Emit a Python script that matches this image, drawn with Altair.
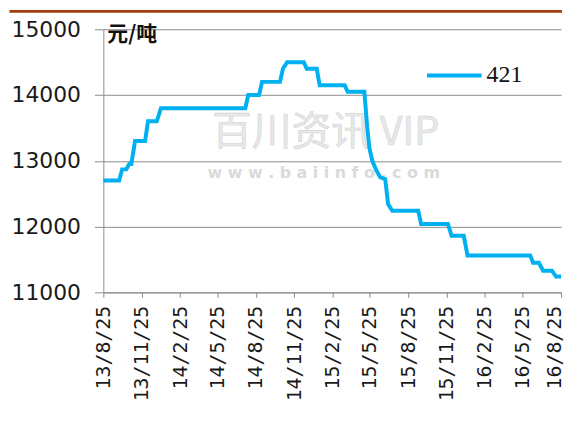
import altair as alt
import pandas as pd

# ---- data ----
dates = [
    "2013-08-25", "2013-10-02", "2013-10-09", "2013-10-19", "2013-10-26", "2013-10-31",
    "2013-11-09", "2013-12-03", "2013-12-10", "2013-12-31", "2014-01-10", "2014-07-31",
    "2014-08-07", "2014-09-02", "2014-09-09", "2014-10-22", "2014-10-29", "2014-11-08",
    "2014-12-18", "2014-12-25", "2015-01-18", "2015-01-25", "2015-03-26", "2015-04-02",
    "2015-05-12", "2015-05-19", "2015-05-24", "2015-05-31", "2015-06-10", "2015-06-19",
    "2015-07-01", "2015-07-08", "2015-07-18", "2015-09-18", "2015-09-25", "2015-11-28",
    "2015-12-07", "2016-01-05", "2016-01-14", "2016-06-12", "2016-06-19", "2016-07-03",
    "2016-07-13", "2016-08-03", "2016-08-13", "2016-08-25",
]
values = [
    12700, 12700, 12870, 12870, 12950, 12950,
    13300, 13300, 13600, 13600, 13800, 13800,
    14000, 14000, 14200, 14200, 14400, 14500,
    14500, 14400, 14400, 14150, 14150, 14050,
    14050, 13500, 13200, 13000, 12850, 12750,
    12720, 12340, 12240, 12240, 12040, 12040,
    11860, 11860, 11560, 11560, 11450, 11450,
    11330, 11330, 11240, 11240,
]
series_name = "421"
unit_label = "元/吨"
watermark_main = "百川资讯 VIP"
watermark_sub = "w w w . b a i i n f o . c o m"
tick_dates = [(2013, 8), (2013, 11), (2014, 2), (2014, 5), (2014, 8), (2014, 11),
              (2015, 2), (2015, 5), (2015, 8), (2015, 11), (2016, 2), (2016, 5), (2016, 8)]
y_ticks = [11000, 12000, 13000, 14000, 15000]

df = pd.DataFrame({"date": pd.to_datetime(dates), "value": values, "series": series_name})

W, H = 461, 265
LINE_COLOR = "#00b0f0"
GRID = "#8c8c8c"

line = alt.Chart(df).mark_line(strokeWidth=4, color=LINE_COLOR).encode(
    x=alt.X(
        "date:T",
        scale=alt.Scale(domain=[alt.DateTime(year=2013, month=8, date=25),
                                alt.DateTime(year=2016, month=8, date=25)]),
        axis=alt.Axis(
            values=[alt.DateTime(year=y, month=m, date=25) for y, m in tick_dates],
            format="%y/%-m/%d", labelAngle=270, title=None, grid=False,
            labelFont="DejaVu Sans Mono", labelFontSize=20, labelColor="#1a1a1a",
            tickSize=5, labelPadding=8, domainColor=GRID, tickColor=GRID,
            labelOverlap=False, labelFlush=False,
            labelOffset={"condition": {"test": "datum.index > 0.99", "value": -7}, "value": 0},
        ),
    ),
    y=alt.Y(
        "value:Q",
        scale=alt.Scale(domain=[11000, 15000], nice=False, zero=False),
        axis=alt.Axis(
            values=y_ticks, format="d", title=None, grid=True, gridColor=GRID,
            labelFont="DejaVu Sans", labelFontSize=22, labelColor="#1a1a1a",
            tickSize=9, labelPadding=14, domainColor=GRID, tickColor=GRID,
        ),
    ),
    color=alt.Color(
        "series:N",
        scale=alt.Scale(range=[LINE_COLOR]),
        legend=alt.Legend(
            orient="none", legendX=324, legendY=17, title=None,
            symbolType="stroke", symbolSize=3025, symbolStrokeWidth=4,
            labelFont="Liberation Serif", labelFontSize=24, labelColor="#111",
            labelOffset=3, padding=0,
        ),
    ),
)

unit = alt.Chart(pd.DataFrame({"t": [unit_label]})).mark_text(
    align="left", baseline="middle", font="Noto Sans CJK SC", fontSize=21,
    fontWeight="bold", color="#111"
).encode(text="t:N", x=alt.value(4), y=alt.value(6))

wm1 = alt.Chart(pd.DataFrame({"t": [watermark_main]})).mark_text(
    align="center", baseline="middle", font="Noto Sans CJK SC", fontSize=40,
    color="#e8e8e8", stroke="#d4d4d4", strokeWidth=0.6
).encode(text="t:N", x=alt.value(224), y=alt.value(105))

wm2 = alt.Chart(pd.DataFrame({"t": [watermark_sub]})).mark_text(
    align="center", baseline="middle", font="DejaVu Sans", fontSize=16,
    fontWeight="bold", color="#dadada"
).encode(text="t:N", x=alt.value(222), y=alt.value(145))

top_rule = alt.Chart(pd.DataFrame({"k": [0]})).mark_rule(
    color="#a03e0e", strokeWidth=3
).encode(x=alt.value(-94.5), x2=alt.value(462), y=alt.value(-18))

chart = alt.layer(wm1, wm2, line, unit, top_rule).properties(
    width=W, height=H,
    padding={"left": 0, "top": 0, "right": 0, "bottom": 0},
).configure_view(stroke=None)

chart.save("out.html", embed_options={"renderer": "svg", "actions": False})
